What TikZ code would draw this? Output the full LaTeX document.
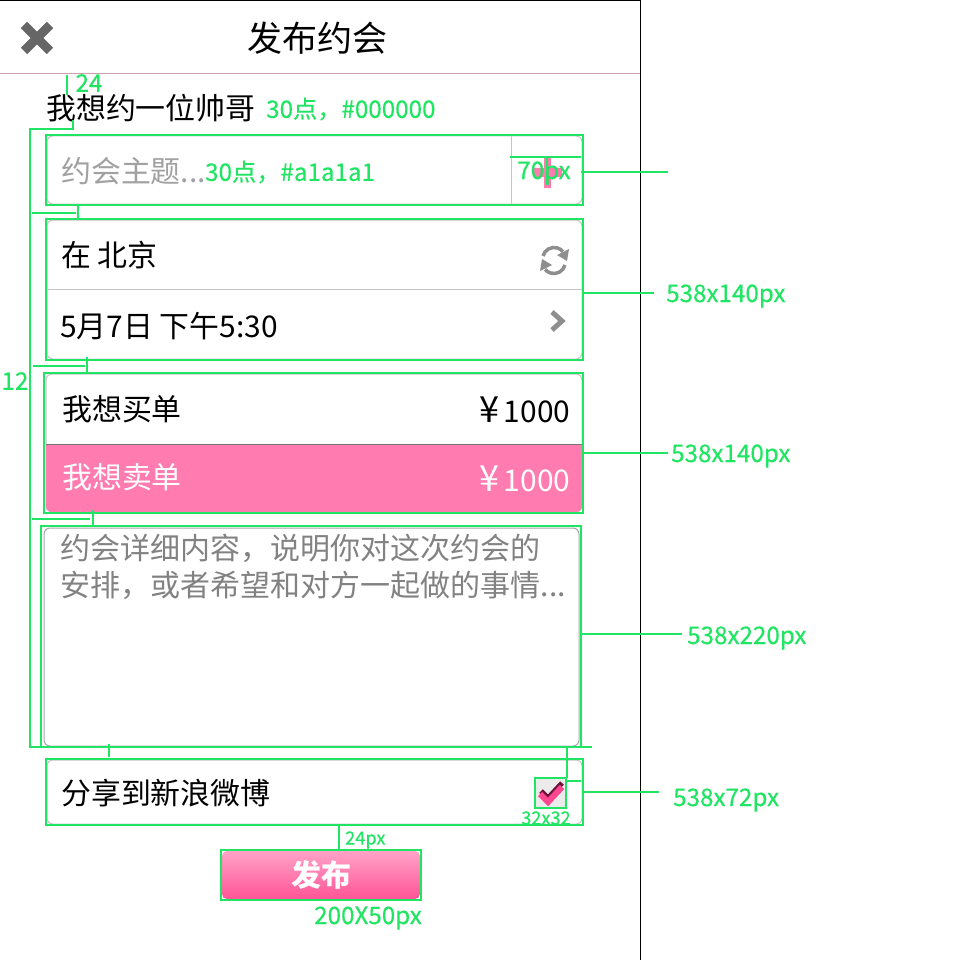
\documentclass[tikz,border=0pt]{standalone}
\usepackage{fontspec}
\setmainfont{Noto Sans CJK SC}
\newfontfamily\annofont[FakeBold=0.35]{Noto Sans CJK SC}
\usetikzlibrary{arrows.meta}
\definecolor{anno}{HTML}{1FE562}
\definecolor{pinkbar}{HTML}{FF7BB0}
\definecolor{hair}{HTML}{C4C4C4}
\definecolor{place}{HTML}{A1A1A1}
\definecolor{bodygray}{HTML}{828282}
\definecolor{icon}{HTML}{8E8E8E}
\newcommand{\fs}[1]{\fontsize{#1}{#1}\selectfont}
\tikzset{
  annobox/.style={draw=anno,line width=2pt},
  annoline/.style={draw=anno,line width=2pt},
  card/.style={draw=hair,line width=1pt,rounded corners=6pt,fill=white},
  uitext/.style={inner sep=0pt,anchor=west,text=black,font=\fs{29.9}},
  annotext/.style={inner sep=0pt,text=anno,font=\annofont\fs{24.2}},
  smallanno/.style={inner sep=0pt,text=anno,font=\annofont\fs{18.2}},
}
\begin{document}
\begin{tikzpicture}[x=1pt,y=-1pt]
\useasboundingbox (0,0) rectangle (960,960);
\fill[white] (0,0) rectangle (960,960);
% frame
\draw[black,line width=1pt] (0,0.5) -- (640.5,0.5) -- (640.5,960);
\draw[color={rgb,255:red,205;green,160;blue,175},line width=1pt] (0,73.5) -- (640,73.5);
% close icon
\draw[color=black!60,line width=9pt] (24,25) -- (50,51) (50,25) -- (24,51);
\node[inner sep=0pt,font=\fs{35}] (title) at (317.5,38) {发布约会};
\node[uitext] (who) at (46,108) {我想约一位帅哥};
% cards
\draw[card] (47,136) rectangle (582,204);
\draw[hair,line width=1pt] (511.5,136) -- (511.5,204);
\fill[pinkbar] (544,157) rectangle (551,188) (533,168) rectangle (562,177);
\node[uitext,text=place] (topic) at (61,171) {约会主题...};
\draw[card] (47,220) rectangle (582,359);
\draw[hair,line width=1pt] (47,289) -- (582,289);
\node[uitext] (place) at (61,255) {在 北京};
\node[uitext] (when) at (60,326) {5月7日 下午5:30};
% refresh icon
\draw[icon,line width=3.5pt] (543,256) arc (195:320:11.5);
\draw[icon,line width=3.5pt] (565,265) arc (15:140:11.5);
\fill[icon] (569,249) -- (567,261) -- (557,255) -- cycle;
\fill[icon] (540,271) -- (542,259) -- (552,265) -- cycle;
% chevron
\draw[icon,line width=5pt] (552,312) -- (562,321) -- (552,330);
% price card
\draw[card] (46,374) rectangle (582,512);
\begin{scope}
\clip[rounded corners=6pt] (46,374) rectangle (582,512);
\fill[pinkbar] (46,444) rectangle (582,512);
\draw[black!55,line width=1pt] (46,444) -- (582,444);
\end{scope}
\node[uitext] (buy) at (62,409) {我想买单};
\node[uitext,anchor=east] (buyp) at (570.5,410) {{\fs{36}¥}\hspace{4pt}1000};
\node[uitext,text=white] (sell) at (62,477) {我想卖单};
\node[uitext,anchor=east,text=white] (sellp) at (570.5,479) {{\fs{36}¥}\hspace{4pt}1000};
% details
\draw[card,draw=black!35] (44,528) rectangle (579,746);
\node[uitext,text=bodygray,font=\fs{30}] (d1) at (60.5,548) {约会详细内容，说明你对这次约会的};
\node[uitext,text=bodygray,font=\fs{30}] (d2) at (60.5,585) {安排，或者希望和对方一起做的事情...};
% share
\draw[card] (47,760) rectangle (582,824);
\node[uitext] (share) at (61,793) {分享到新浪微博};
\fill[black!8,rounded corners=2pt] (536,779) rectangle (565,808);
\draw[color={rgb,255:red,110;green,20;blue,60},line width=5pt] (541,791) -- (548,798) -- (562,783);
\draw[color={rgb,255:red,255;green,70;blue,145},line width=6pt] (540,794) -- (548,802) -- (562,787);
% button
\shade[top color=pinkbar!70!white,bottom color={rgb,255:red,255;green,85;blue,150},rounded corners=5pt] (222,851) rectangle (420,899);
\node[inner sep=0pt,text=white,font=\fs{30}\bfseries] (pub) at (321,875) {发布};
% annotation boxes
\draw[annobox] (46,135) rectangle (583,205);
\draw[annobox] (46,219) rectangle (583,360);
\draw[annobox] (44,373) rectangle (583,513);
\draw[annobox] (41,526) rectangle (580.5,747);
\draw[annobox] (46,759) rectangle (583,825);
\draw[annobox] (535,778) rectangle (566,808);
\draw[annobox] (221,850) rectangle (421,900);
% annotation connectors
\draw[annoline] (67,75) -- (67,95);
\draw[annoline] (73,120) -- (73,129) -- (30,129) -- (30,747) -- (592,747);
\draw[annoline] (32,213) -- (76,213);
\draw[annoline] (78,205) -- (78,219);
\draw[annoline] (33,366) -- (85,366);
\draw[annoline] (87,357) -- (87,373);
\draw[annoline] (32,519) -- (90,519);
\draw[annoline] (93,510) -- (93,526);
\draw[annoline] (109,744) -- (109,757);
\draw[annoline] (567,747) -- (567,778);
\draw[annoline] (566,781) -- (581,781);
\draw[annoline] (339,825) -- (339,850);
\draw[annoline] (510,157) -- (581,157);
\draw[annoline] (547,157) -- (547,185);
\draw[annoline] (581,172) -- (668,172);
\draw[annoline] (583,293) -- (654,293);
\draw[annoline] (583,453) -- (668,453);
\draw[annoline] (581,634) -- (682,634);
\draw[annoline] (583,792) -- (659,792);
% annotation text
\node[annotext] (n24) at (89,83) {24};
\node[annotext] (n12) at (15,381) {12};
\node[annotext,anchor=west] (a1) at (266,109) {30点，\#000000};
\node[annotext,anchor=west] (a2) at (205,172) {30点，\#a1a1a1};
\node[annotext] (a3) at (544,173) {70px};
\node[annotext,anchor=west] (a4) at (666,296) {538x140px};
\node[annotext,anchor=west] (a5) at (671,456) {538x140px};
\node[annotext,anchor=west] (a6) at (687,638) {538x220px};
\node[annotext,anchor=west] (a7) at (673,800) {538x72px};
\node[smallanno] (a8) at (546,818) {32x32};
\node[smallanno,anchor=west] (a9) at (345,840) {24px};
\node[annotext,anchor=west] (a10) at (314,918) {200X50px};
\end{tikzpicture}
\end{document}
